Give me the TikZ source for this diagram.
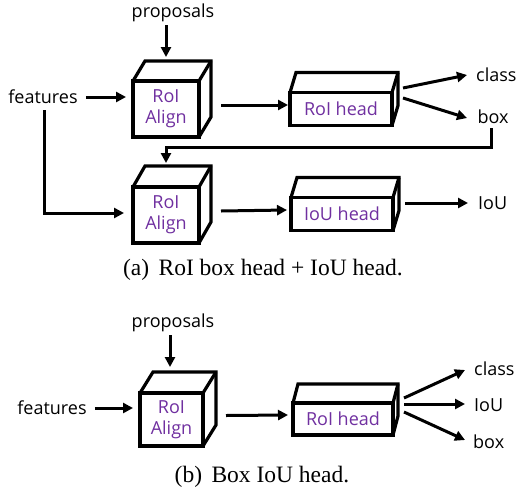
\documentclass[tikz,border=0pt]{standalone}
\usepackage{fontspec}
\setmainfont{Liberation Serif}
\newfontfamily\lblfont{Open Sans}
\usetikzlibrary{arrows.meta}
\definecolor{headpurple}{RGB}{112,48,160}
\newcommand\cubefaces[3]{%
  \draw[boxline] (#1.north west) -- ([shift={(#2pt,#3pt)}]#1.north west) -- ([shift={(#2pt,#3pt)}]#1.north east) -- ([shift={(#2pt,#3pt)}]#1.south east) -- (#1.south east);
  \draw[boxline] (#1.north east) -- ([shift={(#2pt,#3pt)}]#1.north east);
}
\tikzset{
  boxline/.style={line width=3.2pt, line join=miter},
  lbl/.style={font=\lblfont\fontsize{18}{21}\selectfont, inner sep=0pt},
  cubebox/.style={draw, boxline, outer sep=0pt, inner sep=0pt, fill=white,
    minimum width=66pt, minimum height=56pt, align=center, text=headpurple,
    font=\lblfont\fontsize{18}{21}\selectfont},
  headbox/.style={draw, boxline, outer sep=0pt, inner sep=0pt, fill=white,
    minimum width=102pt, minimum height=33pt, text=headpurple,
    font=\lblfont\fontsize{18}{21}\selectfont},
  arr/.style={line width=3pt, -{Triangle[length=10pt,width=10pt]}},
  captext/.style={font=\fontsize{23.5}{26}\selectfont, inner sep=0pt},
}
\begin{document}
\begin{tikzpicture}[x=1pt,y=-1pt]
\useasboundingbox (0,0) rectangle (516,490);
% ---------- (a) ----------
\node[lbl] (propA) at (173,13) {proposals};
\node[lbl] (featA) at (43,97) {features};
\node[cubebox] (alignA) at (166,109) {RoI\\Align};
\cubefaces{alignA}{12}{20}
\node[headbox] (roiheadA) at (341,109) {RoI head};
\cubefaces{roiheadA}{6}{20}
\node[lbl, anchor=west] (classA) at (476,75) {class};
\node[lbl] (boxA) at (493,117) {box};
\node[cubebox] (alignB) at (166,215) {RoI\\Align};
\cubefaces{alignB}{12}{21}
\node[headbox] (iouheadA) at (342,214) {IoU head};
\cubefaces{iouheadA}{6}{20}
\node[lbl, anchor=west] (iouA) at (478,203) {IoU};
\coordinate (alignAtop) at (166,57);
\coordinate (alignBtop) at (166,163);
\coordinate (featcorner) at (44,213);
\coordinate (boxcorner) at (491,147);
\coordinate (boxturn) at (166,147);

\draw[arr] ([yshift=-3pt]propA.south -| alignAtop) -- (alignAtop);
\draw[arr] ([xshift=8pt]featA.east) -- ([xshift=-7pt]alignA.west |- featA.east);
\draw[arr] ([yshift=-6pt]featA.south -| featcorner) -- (featcorner) -- ([xshift=-9pt]alignB.west |- featcorner);
\draw[arr] ([xshift=22pt,yshift=4pt]alignA.east) -- ([xshift=-2pt,yshift=4pt]roiheadA.west);
\draw[arr] ([xshift=11pt,yshift=21pt]roiheadA.east) -- ([xshift=-9pt]classA.west);
\draw[arr] ([xshift=11pt,yshift=11pt]roiheadA.east) -- ([xshift=-9pt,yshift=-1pt]classA.west |- boxA.west);
\draw[arr] ([yshift=-4pt]boxA.south -| boxcorner) -- (boxcorner) -- (boxturn) -- (alignBtop);
\draw[arr] ([xshift=22pt,yshift=4pt]alignB.east) -- ([xshift=-4pt,yshift=4pt]iouheadA.west);
\draw[arr] ([xshift=12pt,yshift=11pt]iouheadA.east) -- ([xshift=-10pt]iouA.west);
\node[captext] (capA) at (263,270) {(a)\hspace{0.4em}RoI box head + IoU head.};

% ---------- (b) ----------
\node[lbl] (propB) at (173,323) {proposals};
\node[lbl] (featB) at (52,408) {features};
\node[cubebox, minimum width=63pt, minimum height=53pt] (alignC) at (171.5,419.5) {RoI\\Align};
\cubefaces{alignC}{13}{21}
\node[headbox, minimum width=100pt, minimum height=32pt] (roiheadB) at (343,419) {RoI head};
\cubefaces{roiheadB}{5}{19}
\node[lbl, anchor=west] (classB) at (474,369) {class};
\node[lbl, anchor=west] (iouB) at (474,405) {IoU};
\node[lbl, anchor=west] (boxB) at (473,442) {box};
\coordinate (alignCtop) at (170,367);

\draw[arr] ([yshift=-3pt]propB.south -| alignCtop) -- (alignCtop);
\draw[arr] ([xshift=8pt]featB.east) -- ([xshift=-7pt]alignC.west |- featB.east);
\draw[arr] ([xshift=23pt,yshift=4pt]alignC.east) -- ([xshift=-5pt,yshift=4pt]roiheadB.west);
\draw[arr] ([xshift=11pt,yshift=21pt]roiheadB.east) -- ([xshift=-9pt,yshift=-1pt]classB.west);
\draw[arr] ([xshift=11pt,yshift=1pt]roiheadB.east |- iouB.west) -- ([xshift=-9pt,yshift=1pt]iouB.west);
\draw[arr] ([xshift=11pt,yshift=7pt]roiheadB.east) -- ([xshift=-8pt,yshift=2pt]boxB.west);
\node[captext] (capB) at (262,477) {(b)\hspace{0.4em}Box IoU head.};
\end{tikzpicture}
\end{document}
